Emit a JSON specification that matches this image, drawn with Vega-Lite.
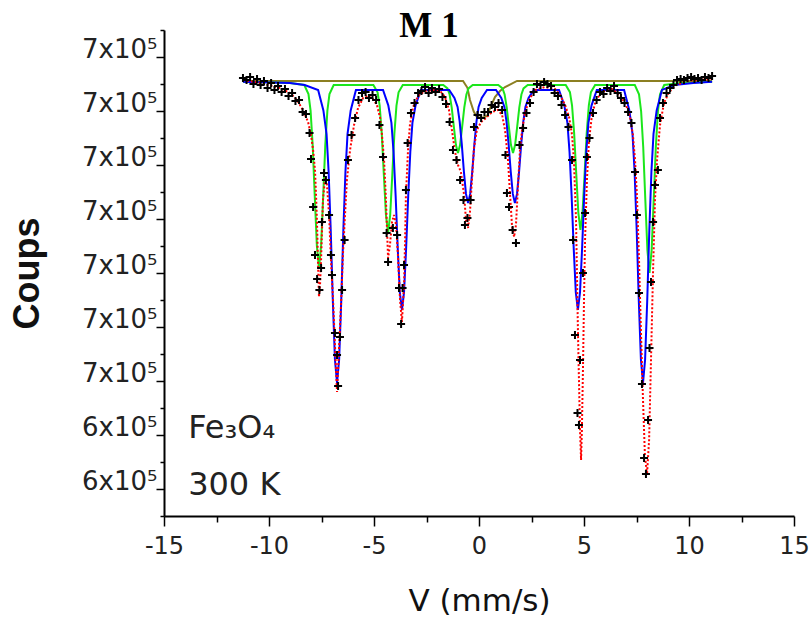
{
"$schema": "https://vega.github.io/schema/vega-lite/v6.json",
"width": 630, "height": 486,
"autosize": {"type": "none"},
"padding": {"left": 164, "top": 30, "right": 15, "bottom": 109},
"background": "white",
"config": {"view": {"stroke": null}, "axis": {"grid": false, "domainColor": "black", "tickColor": "black", "domainWidth": 2, "tickWidth": 1.5, "labelColor": "#222", "titleColor": "#111"}},
"title": {"text": "M 1", "font": "Liberation Serif", "fontSize": 35, "fontWeight": "bold", "anchor": "middle", "dx": -50, "dy": 56, "offset": -7, "baseline": "alphabetic", "color": "black"},
"datasets": {
"notes": [{"label": "Fe₃O₄", "v": -13.85, "counts": 644440}, {"label": "300 K", "v": -13.85, "counts": 633890}],
"doublet": [{"v":-11.24,"counts":710560},{"v":-0.76,"counts":710560},{"v":-0.55,"counts":709300},{"v":-0.43,"counts":707040},{"v":-0.25,"counts":704900},{"v":-0.1,"counts":703890},{"v":0.14,"counts":703700},{"v":0.38,"counts":704070},{"v":0.55,"counts":705700},{"v":0.76,"counts":707590},{"v":1.0,"counts":708700},{"v":1.24,"counts":709440},{"v":1.81,"counts":710560},{"v":11.1,"counts":710560}],
"siteA": [{"v":-11.24,"counts":710400},{"v":-9.0,"counts":710200},{"v":-8.32,"counts":709820},{"v":-8.12,"counts":708130},{"v":-8.02,"counts":705080},{"v":-7.92,"counts":698640},{"v":-7.82,"counts":689150},{"v":-7.72,"counts":680000},{"v":-7.62,"counts":675930},{"v":-7.52,"counts":680000},{"v":-7.42,"counts":689150},{"v":-7.32,"counts":698640},{"v":-7.22,"counts":705080},{"v":-7.12,"counts":708130},{"v":-6.92,"counts":709820},
{"v":-5.03,"counts":709820},{"v":-4.83,"counts":708450},{"v":-4.73,"counts":705980},{"v":-4.63,"counts":700770},{"v":-4.53,"counts":693100},{"v":-4.43,"counts":685700},{"v":-4.33,"counts":682410},{"v":-4.23,"counts":685700},{"v":-4.13,"counts":693100},{"v":-4.03,"counts":700770},{"v":-3.93,"counts":705980},{"v":-3.83,"counts":708450},{"v":-3.63,"counts":709820},
{"v":-1.7,"counts":709820},{"v":-1.5,"counts":709190},{"v":-1.4,"counts":708060},{"v":-1.3,"counts":705670},{"v":-1.2,"counts":702140},{"v":-1.1,"counts":698740},{"v":-1.0,"counts":697230},{"v":-0.9,"counts":698740},{"v":-0.8,"counts":702140},{"v":-0.7,"counts":705670},{"v":-0.6,"counts":708060},{"v":-0.5,"counts":709190},{"v":-0.3,"counts":709820},
{"v":0.92,"counts":709820},{"v":1.12,"counts":709190},{"v":1.22,"counts":708060},{"v":1.32,"counts":705670},{"v":1.42,"counts":702140},{"v":1.52,"counts":698740},{"v":1.62,"counts":697230},{"v":1.72,"counts":698740},{"v":1.82,"counts":702140},{"v":1.92,"counts":705670},{"v":2.02,"counts":708060},{"v":2.12,"counts":709190},{"v":2.32,"counts":709820},
{"v":4.13,"counts":709820},{"v":4.33,"counts":708480},{"v":4.43,"counts":706060},{"v":4.53,"counts":700960},{"v":4.63,"counts":693440},{"v":4.73,"counts":686190},{"v":4.83,"counts":682970},{"v":4.93,"counts":686190},{"v":5.03,"counts":693440},{"v":5.13,"counts":700960},{"v":5.23,"counts":706060},{"v":5.33,"counts":708480},{"v":5.53,"counts":709820},
{"v":7.42,"counts":709820},{"v":7.62,"counts":708080},{"v":7.72,"counts":704950},{"v":7.82,"counts":698330},{"v":7.92,"counts":688580},{"v":8.02,"counts":679180},{"v":8.12,"counts":675000},{"v":8.22,"counts":679180},{"v":8.32,"counts":688580},{"v":8.42,"counts":698330},{"v":8.52,"counts":704950},{"v":8.62,"counts":708080},{"v":8.82,"counts":709820},
{"v":9.6,"counts":710200},{"v":11.1,"counts":710400}],
"siteB": [{"v":-11.24,"counts":710400},{"v":-9.0,"counts":710200},{"v":-8.3,"counts":709800},
{"v":-7.66,"counts":708900},{"v":-7.41,"counts":705100},{"v":-7.26,"counts":700760},{"v":-7.16,"counts":693710},{"v":-7.06,"counts":682860},{"v":-6.96,"counts":669830},{"v":-6.86,"counts":658980},{"v":-6.76,"counts":654640},{"v":-6.66,"counts":658980},{"v":-6.56,"counts":669830},{"v":-6.46,"counts":682860},{"v":-6.36,"counts":693710},{"v":-6.26,"counts":700760},{"v":-6.11,"counts":705100},{"v":-5.86,"counts":708900},
{"v":-4.57,"counts":708900},{"v":-4.32,"counts":706050},{"v":-4.17,"counts":702790},{"v":-4.07,"counts":697490},{"v":-3.97,"counts":689340},{"v":-3.87,"counts":679570},{"v":-3.77,"counts":671420},{"v":-3.67,"counts":668160},{"v":-3.57,"counts":671420},{"v":-3.47,"counts":679570},{"v":-3.37,"counts":689340},{"v":-3.27,"counts":697490},{"v":-3.17,"counts":702790},{"v":-3.02,"counts":706050},{"v":-2.77,"counts":708900},
{"v":-1.42,"counts":708900},{"v":-1.17,"counts":707430},{"v":-1.02,"counts":705760},{"v":-0.92,"counts":703040},{"v":-0.82,"counts":698850},{"v":-0.72,"counts":693830},{"v":-0.62,"counts":689640},{"v":-0.52,"counts":687970},{"v":-0.42,"counts":689640},{"v":-0.32,"counts":693830},{"v":-0.22,"counts":698850},{"v":-0.12,"counts":703040},{"v":-0.02,"counts":705760},{"v":0.13,"counts":707430},{"v":0.38,"counts":708900},
{"v":0.81,"counts":708900},{"v":1.06,"counts":707430},{"v":1.21,"counts":705760},{"v":1.31,"counts":703040},{"v":1.41,"counts":698850},{"v":1.51,"counts":693830},{"v":1.61,"counts":689640},{"v":1.71,"counts":687970},{"v":1.81,"counts":689640},{"v":1.91,"counts":693830},{"v":2.01,"counts":698850},{"v":2.11,"counts":703040},{"v":2.21,"counts":705760},{"v":2.36,"counts":707430},{"v":2.61,"counts":708900},
{"v":3.81,"counts":708900},{"v":4.06,"counts":706050},{"v":4.21,"counts":702790},{"v":4.31,"counts":697490},{"v":4.41,"counts":689340},{"v":4.51,"counts":679570},{"v":4.61,"counts":671420},{"v":4.71,"counts":668160},{"v":4.81,"counts":671420},{"v":4.91,"counts":679570},{"v":5.01,"counts":689340},{"v":5.11,"counts":697490},{"v":5.21,"counts":702790},{"v":5.36,"counts":706050},{"v":5.61,"counts":708900},
{"v":6.91,"counts":708900},{"v":7.16,"counts":705100},{"v":7.31,"counts":700760},{"v":7.41,"counts":693710},{"v":7.51,"counts":682860},{"v":7.61,"counts":669830},{"v":7.71,"counts":658980},{"v":7.81,"counts":654640},{"v":7.91,"counts":658980},{"v":8.01,"counts":669830},{"v":8.11,"counts":682860},{"v":8.21,"counts":693710},{"v":8.31,"counts":700760},{"v":8.46,"counts":705100},{"v":8.71,"counts":708900},
{"v":9.3,"counts":709800},{"v":10.2,"counts":710200},{"v":11.1,"counts":710400}],
"total": [{"v":-11.24,"counts":710740},{"v":-10.43,"counts":710190},{"v":-9.86,"counts":709630},{"v":-9.48,"counts":709260},{"v":-9.0,"counts":708340},{"v":-8.67,"counts":707040},{"v":-8.38,"counts":705190},{"v":-8.14,"counts":702970},{"v":-8.0,"counts":700560},{"v":-7.9,"counts":697780},{"v":-7.81,"counts":694080},{"v":-7.76,"counts":689450},{"v":-7.71,"counts":683890},{"v":-7.67,"counts":677410},{"v":-7.62,"counts":670560},{"v":-7.57,"counts":672780},{"v":-7.52,"counts":677410},{"v":-7.43,"counts":688520},{"v":-7.33,"counts":692590},{"v":-7.24,"counts":691300},{"v":-7.14,"counts":685740},{"v":-7.05,"counts":677410},{"v":-6.95,"counts":670000},{"v":-6.86,"counts":661670},{"v":-6.76,"counts":652960},{"v":-6.67,"counts":660740},{"v":-6.57,"counts":669080},{"v":-6.48,"counts":678340},{"v":-6.38,"counts":685740},{"v":-6.29,"counts":692220},{"v":-6.14,"counts":697780},{"v":-5.95,"counts":702410},{"v":-5.76,"counts":705560},{"v":-5.52,"counts":707410},{"v":-5.29,"counts":707780},{"v":-5.05,"counts":707220},{"v":-4.86,"counts":706110},{"v":-4.71,"counts":703710},{"v":-4.62,"counts":700560},{"v":-4.52,"counts":695930},{"v":-4.43,"counts":688520},{"v":-4.38,"counts":682960},{"v":-4.33,"counts":677780},{"v":-4.24,"counts":680190},{"v":-4.14,"counts":684450},{"v":-4.05,"counts":685740},{"v":-3.95,"counts":683890},{"v":-3.86,"counts":678340},{"v":-3.76,"counts":670000},{"v":-3.67,"counts":665930},{"v":-3.57,"counts":672780},{"v":-3.52,"counts":681110},{"v":-3.48,"counts":689450},{"v":-3.38,"counts":697780},{"v":-3.29,"counts":702410},{"v":-3.14,"counts":705740},{"v":-2.9,"counts":707780},{"v":-2.57,"counts":708710},{"v":-2.1,"counts":708890},{"v":-1.81,"counts":708520},{"v":-1.62,"counts":707600},{"v":-1.43,"counts":705190},{"v":-1.29,"counts":701480},{"v":-1.14,"counts":697410},{"v":-1.0,"counts":695000},{"v":-0.86,"counts":693710},{"v":-0.71,"counts":689450},{"v":-0.62,"counts":684820},{"v":-0.52,"counts":683340},{"v":-0.43,"counts":686300},{"v":-0.33,"counts":692590},{"v":-0.24,"counts":698150},{"v":-0.1,"counts":701480},{"v":0.1,"counts":702970},{"v":0.33,"counts":703710},{"v":0.62,"counts":704820},{"v":0.9,"counts":705190},{"v":1.1,"counts":704260},{"v":1.24,"counts":701480},{"v":1.38,"counts":695930},{"v":1.48,"counts":689450},{"v":1.57,"counts":683890},{"v":1.67,"counts":681670},{"v":1.76,"counts":683890},{"v":1.86,"counts":691300},{"v":1.95,"counts":697780},{"v":2.05,"counts":701480},{"v":2.19,"counts":704630},{"v":2.38,"counts":707040},{"v":2.67,"counts":708890},{"v":3.14,"counts":709450},{"v":3.62,"counts":709080},{"v":3.86,"counts":707970},{"v":4.1,"counts":706110},{"v":4.29,"counts":703890},{"v":4.43,"counts":700560},{"v":4.52,"counts":695930},{"v":4.62,"counts":684820},{"v":4.71,"counts":664450},{"v":4.81,"counts":645930},{"v":4.86,"counts":640370},{"v":4.9,"counts":645930},{"v":4.95,"counts":657040},{"v":5.0,"counts":670000},{"v":5.05,"counts":681110},{"v":5.14,"counts":692220},{"v":5.24,"counts":699630},{"v":5.38,"counts":704260},{"v":5.57,"counts":707040},{"v":5.86,"counts":708520},{"v":6.33,"counts":709080},{"v":6.71,"counts":707970},{"v":7.0,"counts":706110},{"v":7.19,"counts":703890},{"v":7.33,"counts":700560},{"v":7.43,"counts":695930},{"v":7.52,"counts":689450},{"v":7.62,"counts":677410},{"v":7.71,"counts":664450},{"v":7.81,"counts":651480},{"v":7.9,"counts":641300},{"v":8.0,"counts":637590},{"v":8.1,"counts":644070},{"v":8.19,"counts":658890},{"v":8.29,"counts":675560},{"v":8.38,"counts":688520},{"v":8.48,"counts":695930},{"v":8.62,"counts":702410},{"v":8.81,"counts":706480},{"v":9.05,"counts":708520},{"v":9.38,"counts":709820},{"v":9.95,"counts":710560},{"v":10.52,"counts":710740},{"v":11.1,"counts":710930}],
"points": [{"v":-11.24,"counts":711110},{"v":-11.07,"counts":710740},{"v":-10.9,"counts":711300},{"v":-10.74,"counts":710000},{"v":-10.57,"counts":710930},{"v":-10.4,"counts":709820},{"v":-10.24,"counts":710560},{"v":-10.07,"counts":709260},{"v":-9.9,"counts":710190},{"v":-9.74,"counts":708890},{"v":-9.57,"counts":709630},{"v":-9.4,"counts":708520},{"v":-9.24,"counts":709080},{"v":-9.07,"counts":707780},{"v":-8.9,"counts":708340},{"v":-8.74,"counts":706850},{"v":-8.57,"counts":707040},{"v":-8.4,"counts":704820},{"v":-8.24,"counts":704450},{"v":-8.07,"counts":700930},{"v":-8.0,"counts":696110},{"v":-7.9,"counts":687220},{"v":-7.81,"counts":678340},{"v":-7.71,"counts":673890},{"v":-7.6,"counts":671850},{"v":-7.52,"counts":675930},{"v":-7.48,"counts":684450},{"v":-7.38,"counts":693520},{"v":-7.29,"counts":692220},{"v":-7.14,"counts":685740},{"v":-7.05,"counts":678340},{"v":-7.0,"counts":674630},{"v":-6.86,"counts":663890},{"v":-6.76,"counts":659820},{"v":-6.71,"counts":654080},{"v":-6.62,"counts":663150},{"v":-6.52,"counts":671850},{"v":-6.4,"counts":681110},{"v":-6.24,"counts":695930},{"v":-6.07,"counts":700560},{"v":-5.9,"counts":703710},{"v":-5.74,"counts":707040},{"v":-5.57,"counts":708340},{"v":-5.4,"counts":708520},{"v":-5.24,"counts":707410},{"v":-5.07,"counts":707970},{"v":-4.9,"counts":707040},{"v":-4.74,"counts":702410},{"v":-4.57,"counts":696480},{"v":-4.4,"counts":682410},{"v":-4.33,"counts":677040},{"v":-4.1,"counts":683340},{"v":-3.9,"counts":682040},{"v":-3.81,"counts":672220},{"v":-3.71,"counts":665560},{"v":-3.64,"counts":672220},{"v":-3.57,"counts":676480},{"v":-3.48,"counts":690370},{"v":-3.4,"counts":699080},{"v":-3.24,"counts":704630},{"v":-3.07,"counts":706480},{"v":-2.9,"counts":708340},{"v":-2.74,"counts":708710},{"v":-2.57,"counts":709450},{"v":-2.4,"counts":708340},{"v":-2.24,"counts":709260},{"v":-2.07,"counts":708520},{"v":-1.9,"counts":709080},{"v":-1.74,"counts":707600},{"v":-1.57,"counts":706300},{"v":-1.4,"counts":702970},{"v":-1.24,"counts":697780},{"v":-1.07,"counts":695930},{"v":-0.9,"counts":692220},{"v":-0.74,"counts":688520},{"v":-0.67,"counts":683890},{"v":-0.55,"counts":685190},{"v":-0.4,"counts":688520},{"v":-0.24,"counts":702040},{"v":-0.07,"counts":704260},{"v":0.1,"counts":703710},{"v":0.26,"counts":704820},{"v":0.43,"counts":704820},{"v":0.6,"counts":706110},{"v":0.76,"counts":705740},{"v":0.93,"counts":706480},{"v":1.1,"counts":705190},{"v":1.26,"counts":696850},{"v":1.33,"counts":689820},{"v":1.43,"counts":687220},{"v":1.6,"counts":682960},{"v":1.76,"counts":680560},{"v":1.93,"counts":698710},{"v":2.1,"counts":701850},{"v":2.26,"counts":704630},{"v":2.43,"counts":706480},{"v":2.6,"counts":708520},{"v":2.76,"counts":710000},{"v":2.93,"counts":709820},{"v":3.1,"counts":710370},{"v":3.26,"counts":710000},{"v":3.43,"counts":709630},{"v":3.6,"counts":708340},{"v":3.76,"counts":707780},{"v":3.93,"counts":706110},{"v":4.1,"counts":704260},{"v":4.26,"counts":702040},{"v":4.43,"counts":695930},{"v":4.48,"counts":681110},{"v":4.57,"counts":663520},{"v":4.69,"counts":649080},{"v":4.76,"counts":646850},{"v":4.81,"counts":658890},{"v":4.95,"counts":675000},{"v":5.05,"counts":686110},{"v":5.14,"counts":696480},{"v":5.26,"counts":700000},{"v":5.43,"counts":704630},{"v":5.6,"counts":707040},{"v":5.76,"counts":708520},{"v":5.93,"counts":708150},{"v":6.1,"counts":709260},{"v":6.26,"counts":708710},{"v":6.43,"counts":709630},{"v":6.6,"counts":708340},{"v":6.76,"counts":707410},{"v":6.93,"counts":706480},{"v":7.1,"counts":704820},{"v":7.26,"counts":702780},{"v":7.43,"counts":693710},{"v":7.52,"counts":685740},{"v":7.62,"counts":671300},{"v":7.76,"counts":654450},{"v":7.86,"counts":640740},{"v":7.95,"counts":637780},{"v":8.05,"counts":647780},{"v":8.12,"counts":661110},{"v":8.19,"counts":673330},{"v":8.29,"counts":684450},{"v":8.38,"counts":691300},{"v":8.52,"counts":694080},{"v":8.62,"counts":703710},{"v":8.76,"counts":706480},{"v":8.93,"counts":708340},{"v":9.1,"counts":709260},{"v":9.26,"counts":709820},{"v":9.43,"counts":710740},{"v":9.6,"counts":710930},{"v":9.76,"counts":710740},{"v":9.93,"counts":711110},{"v":10.1,"counts":711300},{"v":10.26,"counts":710930},{"v":10.43,"counts":711110},{"v":10.6,"counts":710740},{"v":10.76,"counts":711300},{"v":10.93,"counts":711110},{"v":11.1,"counts":711480}]
},
"encoding": {
"x": {"field": "v", "type": "quantitative", "scale": {"domain": [-15, 15], "nice": false, "zero": false},
 "axis": {"title": "V (mm/s)", "values": [-15,-12.5,-10,-7.5,-5,-2.5,0,2.5,5,7.5,10,12.5,15], "labelExpr": "datum.value % 5 == 0 ? '' + datum.value : ''", "labelOverlap": false, "labelFlush": false, "tickSize": {"condition": {"test": "datum.value % 5 == 0", "value": 10}, "value": 6}, "labelFont": "DejaVu Sans", "labelFontSize": 24, "labelPadding": 8, "titleFont": "DejaVu Sans", "titleFontSize": 31, "titleFontWeight": "normal", "titlePadding": 28}},
"y": {"field": "counts", "type": "quantitative", "scale": {"domain": [630000, 720000], "nice": false, "zero": false},
 "axis": {"title": "Coups", "values": [630000,635000,640000,645000,650000,655000,660000,665000,670000,675000,680000,685000,690000,695000,700000,705000,710000,715000,720000], "labelExpr": "datum.value % 10000 == 5000 ? round(datum.value / 100000) + 'x10⁵' : ''", "labelOverlap": false, "labelFlush": false, "tickSize": {"condition": {"test": "datum.value % 10000 == 5000", "value": 8}, "value": 4}, "labelFont": "DejaVu Sans", "labelFontSize": 26, "labelBaseline": "alphabetic", "labelPadding": -1, "titleFont": "Liberation Sans", "titleFontSize": 36, "titleFontWeight": "bold", "titlePadding": 35}}
},
"layer": [
{"data": {"name": "doublet"}, "mark": {"type": "line", "color": "#8c7f22", "strokeWidth": 2}},
{"data": {"name": "siteA"}, "mark": {"type": "line", "color": "#1be61b", "strokeWidth": 2}},
{"data": {"name": "siteB"}, "mark": {"type": "line", "color": "#0000ff", "strokeWidth": 2}},
{"data": {"name": "total"}, "mark": {"type": "line", "color": "#ff0000", "strokeWidth": 2, "strokeDash": [2, 2]}},
{"data": {"name": "points"}, "mark": {"type": "point", "shape": "M-1,0L1,0M0,-1L0,1", "filled": false, "stroke": "black", "strokeWidth": 2, "size": 64, "opacity": 1}},
{"data": {"name": "notes"}, "mark": {"type": "text", "font": "DejaVu Sans", "fontSize": 32, "align": "left", "baseline": "alphabetic", "color": "#222"}, "encoding": {"text": {"field": "label"}}}
]
}
